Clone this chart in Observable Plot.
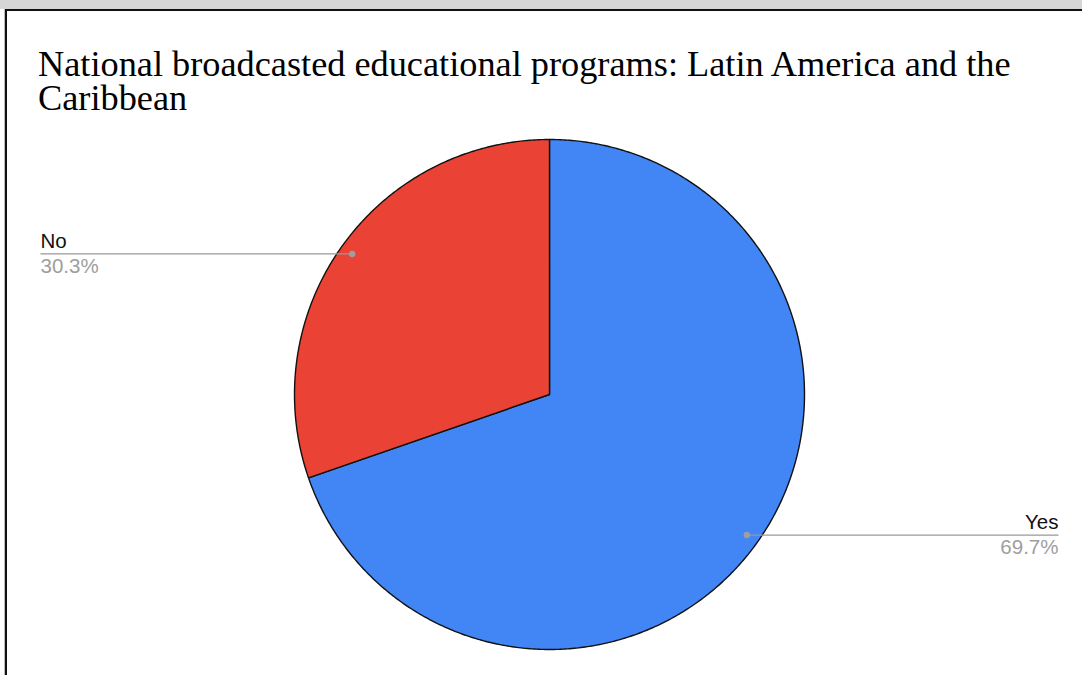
<!DOCTYPE html>
<html><head><meta charset="utf-8">
<script src="https://cdn.jsdelivr.net/npm/d3@7"></script>
<script src="https://cdn.jsdelivr.net/npm/@observablehq/plot@0.6"></script>
<style>
body{margin:0;background:#fff;}
#wrap{position:relative;width:1082px;height:675px;overflow:hidden;background:#fff;}
#band{position:absolute;left:0;top:0;width:1082px;height:9px;background:#d6d6d6;}
#topline{position:absolute;left:5px;top:9px;width:1077px;height:2px;background:#111;}
#leftgray{position:absolute;left:4px;top:9px;width:1px;height:666px;background:#bbb;}
#leftline{position:absolute;left:5px;top:9px;width:2px;height:666px;background:#111;}
#title{position:absolute;left:38px;top:47px;font-family:"Liberation Serif","Times New Roman",serif;font-size:36.3px;line-height:34px;color:#000;width:1040px;}
svg{position:absolute;left:0;top:0;}
</style></head>
<body><div id="wrap"><div id="chart"></div><div id="band"></div><div id="topline"></div><div id="leftgray"></div><div id="leftline"></div>
<div id="title">National broadcasted educational programs: Latin America and the Caribbean</div></div>
<script>
const categories = ["Yes", "No"];
const values = [69.7, 30.3];
const colors = ["#4285F4", "#EA4335"];
const pctLabels = ["69.7%", "30.3%"];

const pie = d3.pie().sort(null).value(d => d.value)(categories.map((c, i) => ({name: c, value: values[i], color: colors[i], pct: pctLabels[i]})));

// slice outlines in unit coordinates (angle 0 = 12 o'clock, clockwise)
const slices = pie.map(p => {
  const pts = [{x: 0, y: 0}];
  const n = Math.max(2, Math.ceil((p.endAngle - p.startAngle) / (Math.PI / 360)));
  for (let k = 0; k <= n; k++) {
    const a = p.startAngle + (p.endAngle - p.startAngle) * k / n;
    pts.push({x: Math.sin(a), y: Math.cos(a)});
  }
  pts.push({x: 0, y: 0});
  return {name: p.data.name, color: p.data.color, pts};
});

const cx = 549, cy = 394, R = 255;
const leftLabelPx = 40, rightLabelPx = 1058;
const dotR = 0.95;
const labels = pie.map(p => {
  const a = (p.startAngle + p.endAngle) / 2;
  const dx = Math.sin(a) * dotR, dy = Math.cos(a) * dotR;
  const right = dx > 0;
  const lx = ((right ? rightLabelPx : leftLabelPx) - cx) / R;
  return {name: p.data.name, pct: p.data.pct, dx, dy, lx, right};
});
const rightLabels = labels.filter(d => d.right);
const leftLabels = labels.filter(d => !d.right);

const font = "Liberation Sans, Arial, sans-serif";
const marks = [];
slices.forEach(s => {
  marks.push(Plot.line(s.pts, {x: "x", y: "y", fill: s.color, stroke: "#111", strokeWidth: 1.4, curve: "linear"}));
});
marks.push(Plot.link(labels, {x1: "dx", y1: "dy", x2: "lx", y2: "dy", stroke: "#999", strokeWidth: 1.3}));
marks.push(Plot.dot(labels, {x: "dx", y: "dy", r: 3.2, fill: "#9e9e9e", stroke: null}));
[[leftLabels, "start"], [rightLabels, "end"]].forEach(([arr, anchor]) => {
  marks.push(Plot.text(arr, {x: "lx", y: "dy", text: "name", textAnchor: anchor, lineAnchor: "bottom", dy: -6, fill: "#111", fontSize: 20.5, fontFamily: font}));
  marks.push(Plot.text(arr, {x: "lx", y: "dy", text: "pct", textAnchor: anchor, lineAnchor: "top", dy: 4, fill: "#9e9e9e", fontSize: 20.5, fontFamily: font}));
});

const chart = Plot.plot({
  width: 1082, height: 675,
  margin: 0,
  x: {domain: [-1, 1], range: [cx - R, cx + R], axis: null},
  y: {domain: [-1, 1], range: [cy + R, cy - R], axis: null},
  style: {background: "transparent", overflow: "visible"},
  marks
});
document.getElementById("chart").appendChild(chart);
</script></body></html>
